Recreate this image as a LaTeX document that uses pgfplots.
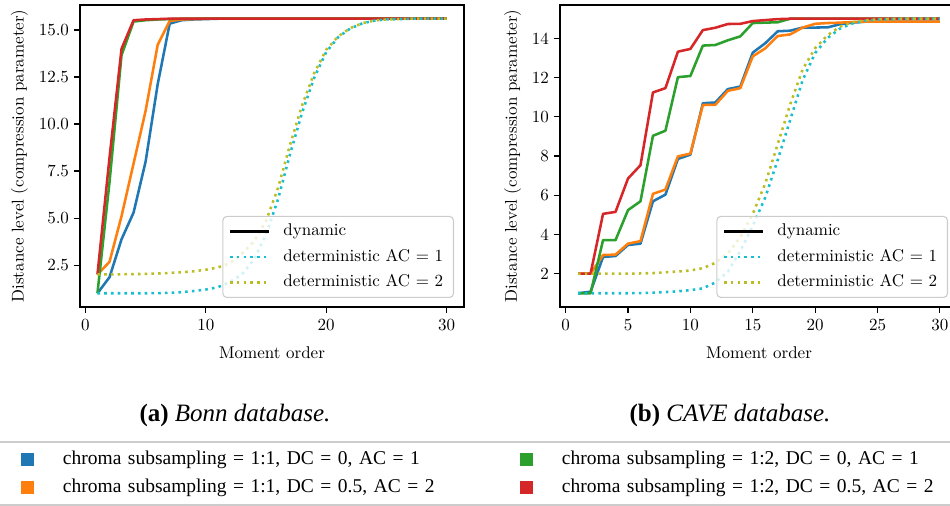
\documentclass[border=0pt]{standalone}
\usepackage{fontspec}
\usepackage{pgfplots}
\usepackage{pgfplotstable}
\pgfplotsset{compat=1.18}
\newfontfamily\timesfont{Liberation Serif}
% the 10pt design of Latin Modern, scaled up, for all text of the plots
\newfontfamily\plotrm{lmroman10-regular.otf}

\definecolor{tabblue}{HTML}{1F77B4}
\definecolor{taborange}{HTML}{FF7F0E}
\definecolor{tabgreen}{HTML}{2CA02C}
\definecolor{tabred}{HTML}{D62728}
\definecolor{tabcyan}{HTML}{17BECF}
\definecolor{tabolive}{HTML}{BCBD22}

\newcommand\plotfont{\plotrm\fontsize{17bp}{20bp}\selectfont}
\newcommand\capfont{\timesfont\fontsize{25bp}{30bp}\selectfont}
\newcommand\legfont{\timesfont\fontsize{19.5bp}{24bp}\selectfont}

% Bonn database: dynamic runs and the two deterministic schedules
\pgfplotstableread{
x  blue   orange green  red    cyan   olive
1  1.00   2.00   1.00   2.00   1.00   2.00
2  1.85   2.67   6.90   8.20   1.00   2.00
3  3.87   5.10   13.66  14.00  1.00   2.01
4  5.29   7.90   15.45  15.52  1.00   2.02
5  8.00   10.70  15.52  15.56  1.00   2.03
6  12.10  14.20  15.56  15.58  1.01   2.05
7  15.34  15.48  15.58  15.60  1.02   2.08
8  15.52  15.56  15.60  15.60  1.06   2.12
9  15.56  15.58  15.60  15.60  1.12   2.17
10 15.58  15.60  15.60  15.60  1.20   2.25
11 15.60  15.60  15.60  15.60  1.32   2.37
12 15.60  15.60  15.60  15.60  1.60   2.60
13 15.60  15.60  15.60  15.60  2.00   3.10
14 15.60  15.60  15.60  15.60  2.80   3.75
15 15.60  15.60  15.60  15.60  4.10   4.84
16 15.60  15.60  15.60  15.60  6.00   6.60
17 15.60  15.60  15.60  15.60  8.40   8.90
18 15.60  15.60  15.60  15.60  10.60  11.00
19 15.60  15.60  15.60  15.60  12.45  12.70
20 15.60  15.60  15.60  15.60  13.82  13.95
21 15.60  15.60  15.60  15.60  14.62  14.66
22 15.60  15.60  15.60  15.60  15.08  15.10
23 15.60  15.60  15.60  15.60  15.35  15.36
24 15.60  15.60  15.60  15.60  15.50  15.50
25 15.60  15.60  15.60  15.60  15.56  15.56
26 15.60  15.60  15.60  15.60  15.58  15.58
27 15.60  15.60  15.60  15.60  15.60  15.60
28 15.60  15.60  15.60  15.60  15.60  15.60
29 15.60  15.60  15.60  15.60  15.60  15.60
30 15.60  15.60  15.60  15.60  15.60  15.60
}\bonn

% CAVE database
\pgfplotstableread{
x  blue   orange green  red    cyan   olive
1  1.00   2.00   1.00   2.00   1.00   2.00
2  1.08   2.00   1.00   2.00   1.00   2.00
3  2.85   2.95   3.71   5.05   1.00   2.00
4  2.90   2.97   3.71   5.15   1.00   2.00
5  3.46   3.53   5.24   6.85   1.00   2.00
6  3.53   3.66   5.69   7.53   1.01   2.01
7  5.69   6.07   9.03   11.24  1.03   2.03
8  6.03   6.29   9.29   11.46  1.06   2.07
9  7.85   7.98   12.02  13.32  1.10   2.11
10 8.07   8.12   12.08  13.46  1.16   2.16
11 10.69  10.60  13.63  14.42  1.25   2.28
12 10.73  10.61  13.66  14.54  1.55   2.55
13 11.41  11.32  13.90  14.73  2.10   3.04
14 11.54  11.46  14.10  14.74  3.15   3.85
15 13.27  13.08  14.78  14.88  4.44   5.05
16 13.75  13.49  14.80  14.93  5.88   6.59
17 14.36  14.12  14.82  14.98  7.80   8.61
18 14.39  14.20  15.00  15.00  9.84   10.63
19 14.55  14.55  15.00  15.00  11.87  12.42
20 14.55  14.74  15.00  15.00  13.25  13.50
21 14.56  14.78  15.00  15.00  14.02  14.16
22 14.72  14.80  15.00  15.00  14.50  14.60
23 14.80  14.83  15.00  15.00  14.76  14.82
24 14.85  14.85  15.00  15.00  14.89  14.92
25 14.85  14.85  15.00  15.00  14.96  14.97
26 14.85  14.85  15.00  15.00  14.98  14.99
27 14.85  14.85  15.00  15.00  15.00  15.00
28 14.85  14.85  15.00  15.00  15.00  15.00
29 14.85  14.85  15.00  15.00  15.00  15.00
30 14.85  14.85  15.00  15.00  15.00  15.00
}\cave

\pgfplotsset{
  dyn/.style={line width=2.55bp, line join=round, forget plot},
  det/.style={line width=2.55bp, dash pattern=on 2.55bp off 4.2bp, forget plot},
  momentaxis/.style={
    scale only axis, height=302bp,
    xmin=-0.45, xmax=31.45,
    axis line style={line width=1.1bp, black},
    tick style={line width=1.1bp, black},
    tick align=outside, major tick length=6bp,
    xtick pos=bottom, ytick pos=left,
    /pgf/number format/assume math mode=true,
    ticklabel style={font=\plotfont},
    xticklabel style={yshift=-3bp},
    yticklabel style={xshift=-1.5bp},
    label style={font=\plotfont},
    xlabel={Moment order}, xlabel shift=9bp,
    ylabel={Distance level (compression parameter)}, ylabel shift=4bp,
    legend image code/.code={\draw[##1] (0bp,0bp) -- (39bp,0bp);},
    legend cell align=left,
    legend style={
      at={(1,0)}, anchor=south east, xshift=-10bp, yshift=9bp,
      draw=black!20, line width=1.1bp, rounded corners=4bp,
      fill=white, fill opacity=0.8, draw opacity=1, text opacity=1,
      inner xsep=6bp, inner ysep=7.5bp, row sep=10.5bp,
      font=\plotfont,
      nodes={inner sep=0bp, text height=12bp, text depth=3bp, text width=164bp},
      /tikz/every odd column/.append style={column sep=13bp},
    },
  },
}

\begin{document}
\begin{tikzpicture}
\path[use as bounding box] (0bp,0bp) rectangle (950bp,506bp);
\clip (0bp,0bp) rectangle (950bp,506bp);

% (a) Bonn database
\begin{axis}[momentaxis, at={(80bp,199bp)}, anchor=south west, width=384bp,
  ymin=0.27, ymax=16.33, xtick={0,10,20,30}, ytick={2.5,5,...,15},
  yticklabel style={/pgf/number format/.cd, fixed, fixed zerofill, precision=1}]
  \addplot[dyn, tabblue]   table[x=x, y=blue]   {\bonn};
  \addplot[dyn, taborange] table[x=x, y=orange] {\bonn};
  \addplot[dyn, tabgreen]  table[x=x, y=green]  {\bonn};
  \addplot[dyn, tabred]    table[x=x, y=red]    {\bonn};
  \addplot[det, tabcyan]   table[x=x, y=cyan]   {\bonn};
  \addplot[det, tabolive]  table[x=x, y=olive]  {\bonn};
  \addlegendimage{black, line width=2.55bp}
  \addlegendentry{dynamic}
  \addlegendimage{tabcyan, line width=2.55bp, dash pattern=on 2.55bp off 4.2bp}
  \addlegendentry{deterministic AC = 1}
  \addlegendimage{tabolive, line width=2.55bp, dash pattern=on 2.55bp off 4.2bp}
  \addlegendentry{deterministic AC = 2}
\end{axis}

% (b) CAVE database
\begin{axis}[momentaxis, at={(560bp,199bp)}, anchor=south west, width=398bp,
  ymin=0.3, ymax=15.7, xtick={0,5,...,30}, ytick={2,4,...,14}]
  \addplot[dyn, tabblue]   table[x=x, y=blue]   {\cave};
  \addplot[dyn, taborange] table[x=x, y=orange] {\cave};
  \addplot[dyn, tabgreen]  table[x=x, y=green]  {\cave};
  \addplot[dyn, tabred]    table[x=x, y=red]    {\cave};
  \addplot[det, tabcyan]   table[x=x, y=cyan]   {\cave};
  \addplot[det, tabolive]  table[x=x, y=olive]  {\cave};
  \addlegendimage{black, line width=2.55bp}
  \addlegendentry{dynamic}
  \addlegendimage{tabcyan, line width=2.55bp, dash pattern=on 2.55bp off 4.2bp}
  \addlegendentry{deterministic AC = 1}
  \addlegendimage{tabolive, line width=2.55bp, dash pattern=on 2.55bp off 4.2bp}
  \addlegendentry{deterministic AC = 2}
\end{axis}

% shared legend for the four configurations
\begin{axis}[at={(80bp,199bp)}, anchor=south west, scale only axis,
  width=384bp, height=302bp, hide axis, xmin=0, xmax=1, ymin=0, ymax=1,
  legend columns=2, legend cell align=left,
  legend image code/.code={\fill[#1] (0bp,-5.5bp) rectangle (11bp,5.5bp);},
  legend style={
    at={(0,0)}, anchor=north west, xshift=-86bp, yshift=-134bp,
    draw=black!20, line width=2bp, fill=white,
    inner xsep=26bp, inner ysep=8.5bp, row sep=10bp,
    font=\legfont,
    nodes={inner sep=0bp, text height=14bp, text depth=4bp, text width=440bp},
    /tikz/every odd column/.append style={column sep=29bp},
    /tikz/every even column/.append style={column sep=17bp},
  }]
  \addlegendimage{tabblue}
  \addlegendentry{chroma subsampling = 1:1, DC = 0, AC = 1}
  \addlegendimage{tabgreen}
  \addlegendentry{chroma subsampling = 1:2, DC = 0, AC = 1}
  \addlegendimage{taborange}
  \addlegendentry{chroma subsampling = 1:1, DC = 0.5, AC = 2}
  \addlegendimage{tabred}
  \addlegendentry{chroma subsampling = 1:2, DC = 0.5, AC = 2}
\end{axis}

\node[anchor=base, font=\capfont] at (235bp,84bp) {\textbf{(a)} \textit{Bonn database.}};
\node[anchor=base, font=\capfont] at (730bp,84bp) {\textbf{(b)} \textit{CAVE database.}};
\end{tikzpicture}
\end{document}
